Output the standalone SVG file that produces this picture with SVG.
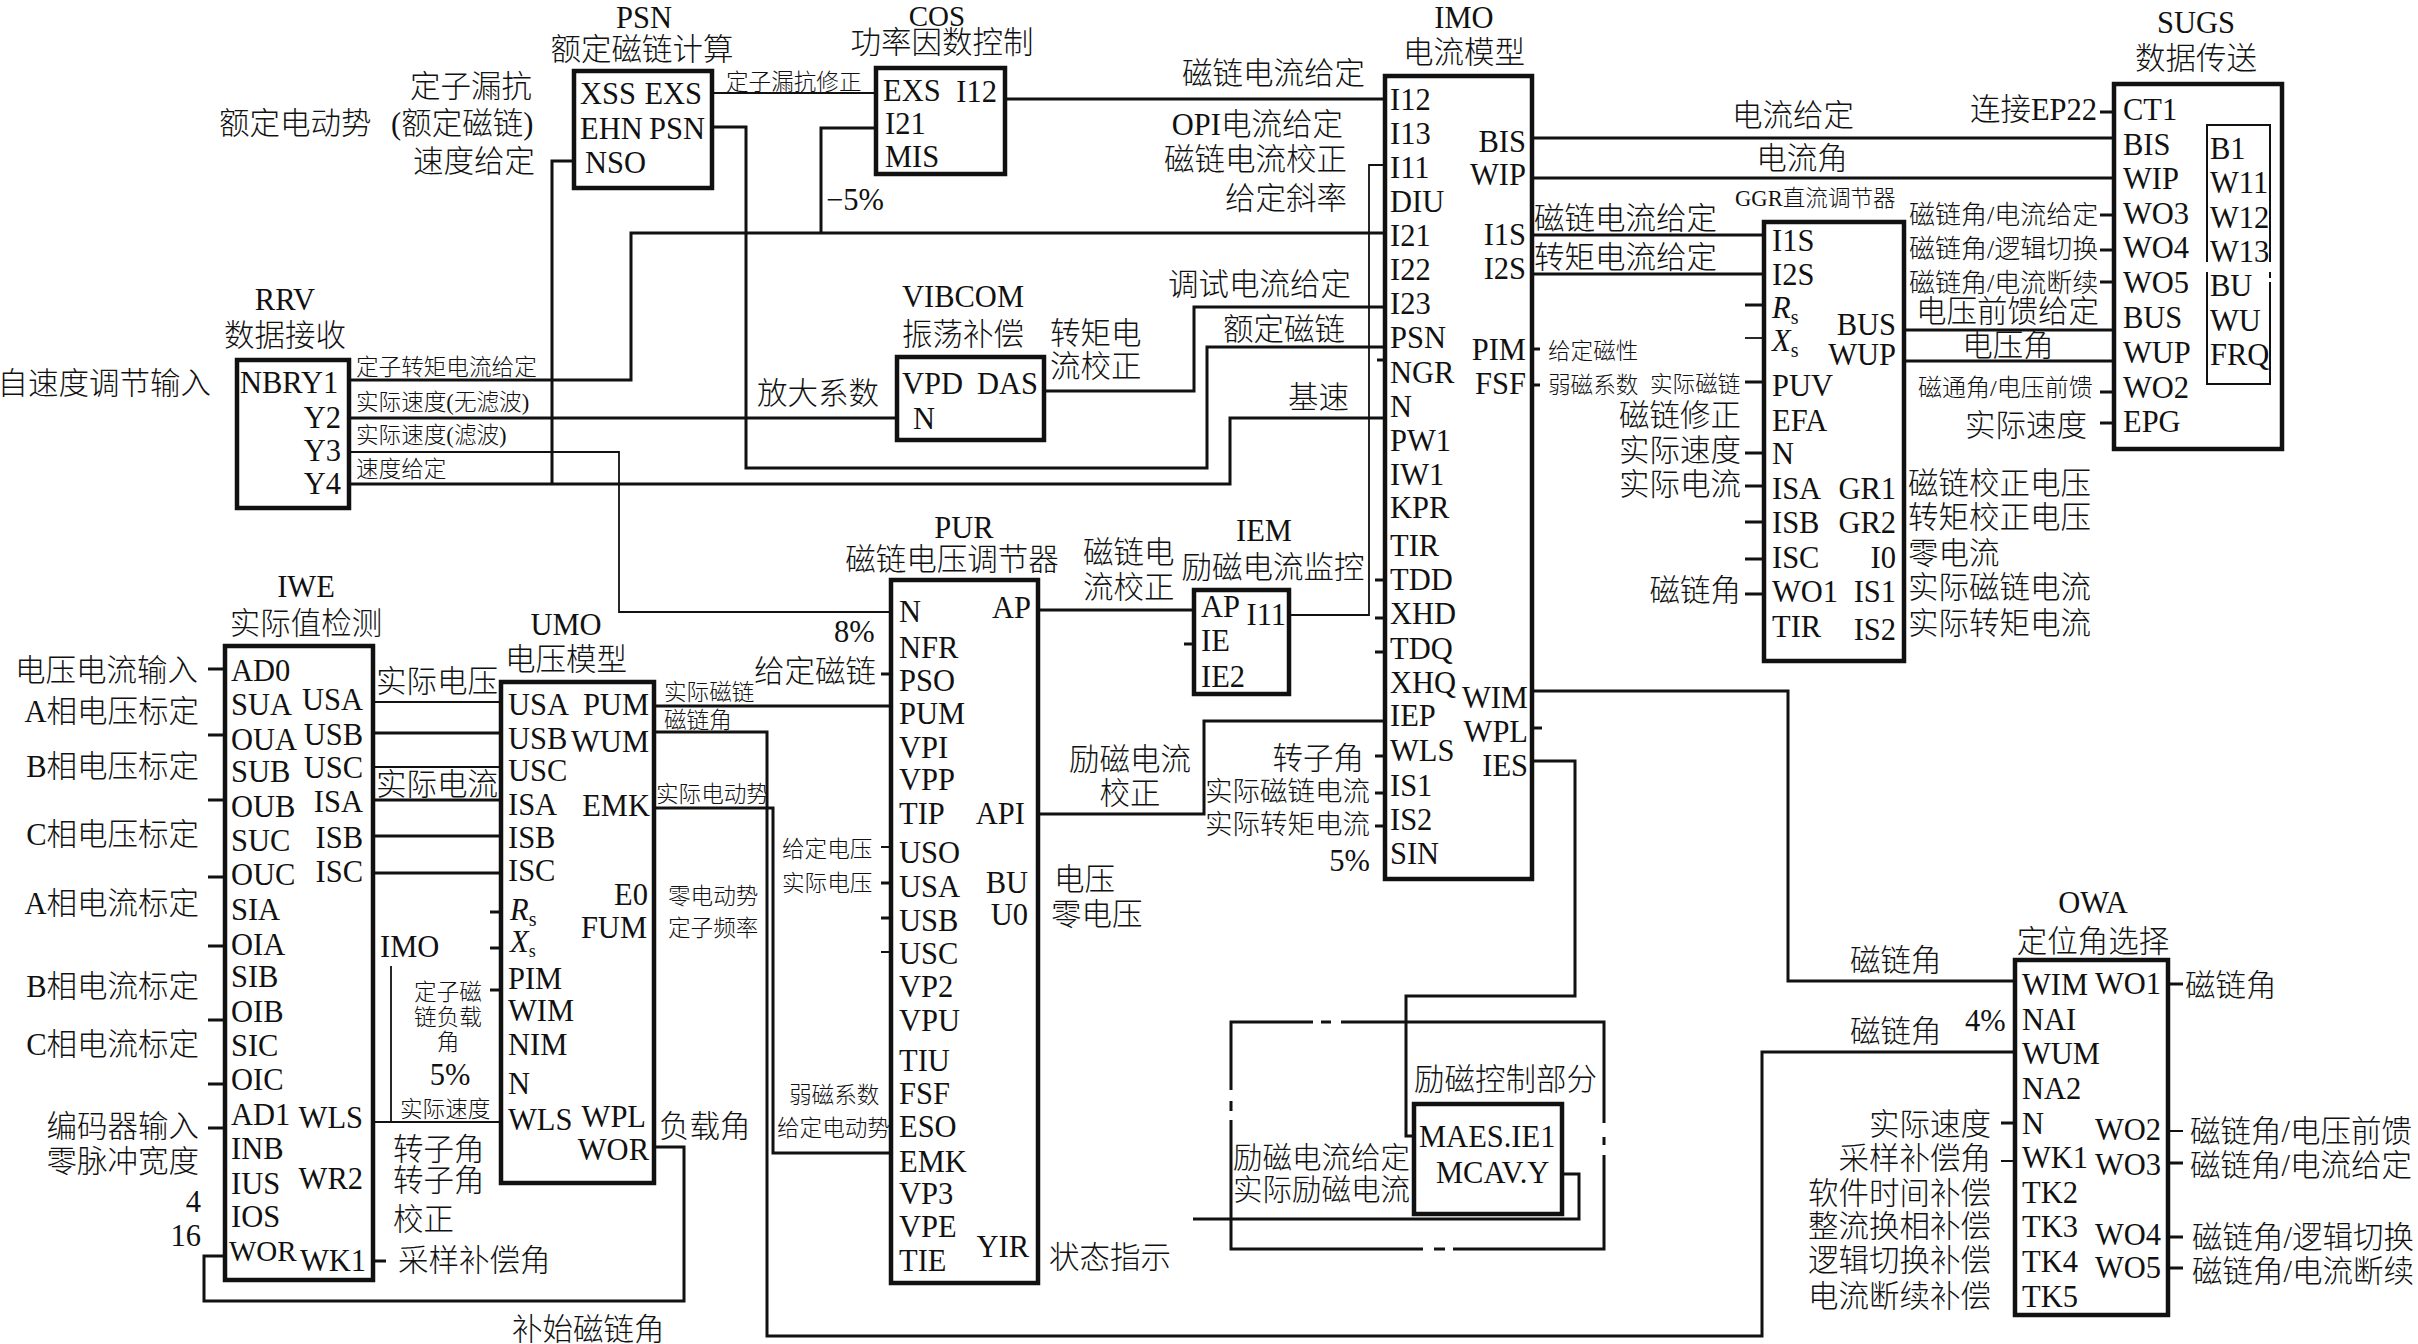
<svg xmlns="http://www.w3.org/2000/svg" width="2418" height="1344" viewBox="0 0 2418 1344">
<style>
text{font-family:"Liberation Serif","Noto Sans CJK SC",serif;font-size:30.5px;fill:#111;font-weight:300}
.s{font-size:22.6px}
.e{text-anchor:end}
.m{text-anchor:middle}
.i{font-style:italic}
.u{font-size:20px;font-style:normal}
.v{font-size:18px;font-style:normal}
.q{font-size:26px}
.r{font-size:27.5px}
.x{font-size:29.5px}
.b{fill:#fff;stroke:#111;stroke-width:4.5}
.n{fill:none;stroke:#111;stroke-width:2}
#wires path{fill:none;stroke:#111;stroke-width:3}
#wires path.t{stroke-width:1.8}
</style>
<rect width="2418" height="1344" fill="#fff"/>
<g id="wires">
<path d="M349 380H631V233H1385M821 233V128H876"/>
<path d="M349 418H897"/>
<path d="M349 452H619V612H891" class="t"/>
<path d="M349 484H1230V418H1385M552 484V161H574"/>
<path d="M712 93H876" class="t"/>
<path d="M712 127H746V468H1207V347H1385"/>
<path d="M1005 99H1385"/>
<path d="M1044 391H1194V307H1385"/>
<path d="M1385 165H1369V615H1289" class="t"/>
<path d="M1377 360H1385M1375 580H1385M1375 618H1385M1375 652H1385M1375 756H1385M1375 793H1385M1375 826H1385"/>
<path d="M1038 610H1194"/>
<path d="M1184 644H1194"/>
<path d="M1038 814H1204V721H1385"/>
<path d="M1532 138H2114M1532 178H2114"/>
<path d="M1532 235H1764M1532 274H1764"/>
<path d="M1532 349H1540M1532 385H1540"/>
<path d="M1745 305H1764M1745 382H1764M1745 453H1764M1745 486H1764M1745 522H1764M1745 559H1764M1745 594H1764"/>
<path d="M1745 338H1764" class="t"/>
<path d="M1904 330H2114M1904 361H2114"/>
<path d="M2100 112H2114M2100 215H2114M2100 250H2114M2100 282H2114M2100 392H2114M2100 423H2114"/>
<path d="M208 669H225M208 735H225M208 800H225M208 877H225M208 946H225M208 1020H225M208 1084H225M208 1128H225"/>
<path d="M373 702H501M373 767H501M373 1122H501M391 966V1122" class="t"/>
<path d="M373 733H501M373 800H501M373 836H501M373 873H501"/>
<path d="M490 912H501M490 948H501M490 990H501"/>
<path d="M373 1261H386"/>
<path d="M225 1256H204V1301H684V1147H654"/>
<path d="M654 706H891"/>
<path d="M654 732H767V1336H1762V1052H2015"/>
<path d="M654 808H773V1153H891"/>
<path d="M881 674H891M881 883H891M881 918H891"/>
<path d="M881 847H891M881 952H891" class="t"/>
<path d="M1532 691H1788V981H2015"/>
<path d="M1532 728H1542"/>
<path d="M1532 761H1575V996H1406V1136H1414"/>
<path d="M1562 1174H1579V1219H1193"/>
<path d="M1231 1090V1022H1313M1321 1022H1331M1341 1022H1604V1123M1604 1137V1145M1604 1155V1249H1453M1445 1249H1434M1423 1249H1231V1120M1231 1111V1101"/>
<path d="M2168 984H2183M2168 1163H2183M2168 1237H2183M2168 1268H2183M2001 1123H2015"/>
<path d="M2168 1131H2183M2001 1161H2015" class="t"/>
</g>

<g id="PSN">
<rect class="b" x="574" y="71" width="138" height="117"/>
<text class="m" x="644" y="28">PSN</text><text class="m" x="642" y="60">额定磁链计算</text>
<text x="580" y="104">XSS</text><text class="e" x="702" y="104">EXS</text>
<text x="580" y="139">EHN</text><text class="e" x="705" y="139">PSN</text>
<text x="585" y="173">NSO</text>
</g>
<g id="COS">
<rect class="b" x="876" y="68" width="129" height="106"/>
<text class="m" x="937" y="26" style="font-size:29px">COS</text><text class="m" x="942" y="53">功率因数控制</text>
<text x="883" y="101">EXS</text><text class="e" x="997" y="102">I12</text>
<text x="885" y="134">I21</text><text x="885" y="167">MIS</text>
</g>
<g id="RRV">
<rect class="b" x="237" y="360" width="112" height="148"/>
<text class="m" x="285" y="310">RRV</text><text class="m" x="285" y="346">数据接收</text>
<text x="240" y="393">NBRY1</text>
<text class="e" x="341" y="428">Y2</text><text class="e" x="341" y="461">Y3</text><text class="e" x="341" y="494">Y4</text>
</g>
<g id="VIBCOM">
<rect class="b" x="897" y="357" width="147" height="83"/>
<text class="m" x="963" y="307">VIBCOM</text><text class="m" x="963" y="345">振荡补偿</text>
<text x="902" y="394">VPD</text><text class="e" x="1038" y="394">DAS</text><text x="913" y="429">N</text>
</g>
<g id="IMO">
<rect class="b" x="1385" y="76" width="147" height="803"/>
<text class="m" x="1464" y="28">IMO</text><text class="m" x="1464" y="63">电流模型</text>
<text x="1390" y="110">I12</text><text x="1390" y="144">I13</text><text x="1390" y="178">I11</text><text x="1390" y="212">DIU</text>
<text x="1390" y="246">I21</text><text x="1390" y="280">I22</text><text x="1390" y="314">I23</text><text x="1390" y="348">PSN</text>
<text x="1390" y="383">NGR</text><text x="1390" y="417">N</text><text x="1390" y="451">PW1</text><text x="1390" y="485">IW1</text>
<text x="1390" y="518">KPR</text><text x="1390" y="556">TIR</text><text x="1390" y="590">TDD</text><text x="1390" y="624">XHD</text>
<text x="1390" y="659">TDQ</text><text x="1390" y="693">XHQ</text><text x="1390" y="726">IEP</text><text x="1390" y="761">WLS</text>
<text x="1390" y="796">IS1</text><text x="1390" y="830">IS2</text><text x="1390" y="864">SIN</text>
<text class="e" x="1526" y="152">BIS</text><text class="e" x="1526" y="185">WIP</text><text class="e" x="1526" y="245">I1S</text><text class="e" x="1526" y="279">I2S</text>
<text class="e" x="1526" y="360">PIM</text><text class="e" x="1526" y="394">FSF</text><text class="e" x="1528" y="708">WIM</text><text class="e" x="1528" y="742">WPL</text><text class="e" x="1528" y="776">IES</text>
</g>
<g id="GGR">
<rect class="b" x="1764" y="222" width="140" height="439"/>
<text class="s" x="1735" y="206">GGR直流调节器</text>
<text x="1772" y="251">I1S</text><text x="1772" y="285">I2S</text>
<text class="i" x="1772" y="318">R<tspan class="u" dy="6">s</tspan></text>
<text class="i" x="1772" y="351">X<tspan class="u" dy="6">s</tspan></text>
<text x="1772" y="396">PUV</text><text x="1772" y="431">EFA</text><text x="1772" y="464">N</text><text x="1772" y="499">ISA</text>
<text x="1772" y="533">ISB</text><text x="1772" y="568">ISC</text><text x="1772" y="602">WO1</text><text x="1772" y="637">TIR</text>
<text class="e" x="1896" y="335">BUS</text><text class="e" x="1896" y="365">WUP</text><text class="e" x="1896" y="499">GR1</text><text class="e" x="1896" y="533">GR2</text>
<text class="e" x="1896" y="568">I0</text><text class="e" x="1896" y="602">IS1</text><text class="e" x="1896" y="640">IS2</text>
</g>
<g id="SUGS">
<rect class="b" x="2114" y="84" width="168" height="365"/>
<text class="m" x="2196" y="33">SUGS</text><text class="m" x="2196" y="69">数据传送</text>
<text x="2123" y="120">CT1</text><text x="2123" y="155">BIS</text><text x="2123" y="189">WIP</text><text x="2123" y="224">WO3</text><text x="2123" y="258">WO4</text>
<text x="2123" y="293">WO5</text><text x="2123" y="328">BUS</text><text x="2123" y="363">WUP</text><text x="2123" y="398">WO2</text><text x="2123" y="432">EPG</text>
<path class="n" d="M2207 262V125H2270V262M2270 272V278M2270 282V384H2207V272"/>
<text x="2210" y="159">B1</text><text x="2210" y="193">W11</text><text x="2210" y="228">W12</text><text x="2210" y="262">W13</text>
<text x="2210" y="296">BU</text><text x="2210" y="331">WU</text><text x="2210" y="365">FRQ</text>
</g>
<g id="IWE">
<rect class="b" x="225" y="646" width="148" height="634"/>
<text class="m" x="306" y="597">IWE</text><text class="m" x="306" y="634">实际值检测</text>
<text x="231" y="681">AD0</text><text x="231" y="715">SUA</text><text x="231" y="750">OUA</text><text x="231" y="782">SUB</text><text x="231" y="817">OUB</text><text x="231" y="851">SUC</text>
<text x="231" y="885">OUC</text><text x="231" y="920">SIA</text><text x="231" y="955">OIA</text><text x="231" y="987">SIB</text><text x="231" y="1022">OIB</text><text x="231" y="1056">SIC</text>
<text x="231" y="1090">OIC</text><text x="231" y="1125">AD1</text><text x="231" y="1159">INB</text><text x="231" y="1194">IUS</text><text x="231" y="1227">IOS</text><text x="229" y="1261" style="font-size:29px">WOR</text>
<text class="e" x="363" y="710">USA</text><text class="e" x="363" y="745">USB</text><text class="e" x="363" y="778">USC</text><text class="e" x="363" y="812">ISA</text><text class="e" x="363" y="848">ISB</text><text class="e" x="363" y="882">ISC</text>
<text class="e" x="363" y="1128">WLS</text><text class="e" x="363" y="1189">WR2</text><text class="e" x="366" y="1271">WK1</text>
</g>
<g id="UMO">
<rect class="b" x="501" y="682" width="153" height="501"/>
<text class="m" x="566" y="635">UMO</text><text class="m" x="566" y="670">电压模型</text>
<text x="508" y="715">USA</text><text x="508" y="749">USB</text><text x="508" y="781">USC</text><text x="508" y="815">ISA</text><text x="508" y="848">ISB</text><text x="508" y="881">ISC</text>
<text class="i" x="510" y="920">R<tspan class="u" dy="6">s</tspan></text>
<text class="i" x="510" y="952">X<tspan class="v" dy="5">s</tspan></text>
<text x="508" y="989">PIM</text><text x="508" y="1021">WIM</text><text x="508" y="1055">NIM</text><text x="508" y="1094">N</text><text x="508" y="1130">WLS</text>
<text class="e" x="649" y="715">PUM</text><text class="e" x="649" y="752">WUM</text><text class="e" x="650" y="816">EMK</text><text class="e" x="648" y="905">E0</text><text class="e" x="647" y="938">FUM</text>
<text class="e" x="646" y="1127">WPL</text><text class="e" x="649" y="1160">WOR</text>
</g>
<g id="PUR">
<rect class="b" x="891" y="580" width="147" height="703"/>
<text class="m" x="964" y="538">PUR</text><text class="m" x="952" y="570">磁链电压调节器</text>
<text x="899" y="622">N</text><text x="899" y="658">NFR</text><text x="899" y="691">PSO</text><text x="899" y="724">PUM</text><text x="899" y="758">VPI</text><text x="899" y="790">VPP</text><text x="899" y="824">TIP</text>
<text x="899" y="863">USO</text><text x="899" y="897">USA</text><text x="899" y="931">USB</text><text x="899" y="964">USC</text><text x="899" y="997">VP2</text><text x="899" y="1031">VPU</text>
<text x="899" y="1071">TIU</text><text x="899" y="1104">FSF</text><text x="899" y="1137">ESO</text><text x="899" y="1172">EMK</text><text x="899" y="1204">VP3</text><text x="899" y="1237">VPE</text><text x="899" y="1271">TIE</text>
<text class="e" x="1031" y="618">AP</text><text class="e" x="1025" y="824">API</text><text class="e" x="1028" y="893">BU</text><text class="e" x="1028" y="925">U0</text><text class="e" x="1029" y="1257">YIR</text>
</g>
<g id="IEM">
<rect class="b" x="1194" y="590" width="95" height="104"/>
<text class="m" x="1264" y="541">IEM</text><text class="m" x="1273" y="578">励磁电流监控</text>
<text x="1201" y="617">AP</text><text class="e" x="1286" y="625">I11</text><text x="1201" y="651">IE</text><text x="1201" y="687">IE2</text>
</g>
<g id="EXC">
<rect class="b" x="1414" y="1104" width="148" height="110"/>
<text x="1414" y="1090">励磁控制部分</text>
<text x="1419" y="1147">MAES.IE1</text><text x="1436" y="1183">MCAV.Y</text>
</g>
<g id="OWA">
<rect class="b" x="2015" y="960" width="153" height="355"/>
<text class="m" x="2093" y="913">OWA</text><text class="m" x="2093" y="952">定位角选择</text>
<text x="2022" y="995">WIM</text><text x="2022" y="1030">NAI</text><text x="2022" y="1064">WUM</text><text x="2022" y="1099">NA2</text><text x="2022" y="1134">N</text>
<text x="2022" y="1168">WK1</text><text x="2022" y="1203">TK2</text><text x="2022" y="1237">TK3</text><text x="2022" y="1272">TK4</text><text x="2022" y="1307">TK5</text>
<text class="e" x="2161" y="994">WO1</text><text class="e" x="2161" y="1140">WO2</text><text class="e" x="2161" y="1175">WO3</text><text class="e" x="2161" y="1245">WO4</text><text class="e" x="2161" y="1278">WO5</text>
</g>

<g id="labels">
<text class="e" x="532" y="97">定子漏抗</text>
<text x="219" y="134">额定电动势<tspan x="391">(额定磁链)</tspan></text>
<text class="e" x="535" y="172">速度给定</text>
<text class="s" x="726" y="90">定子漏抗修正</text>
<text class="e" x="211" y="394">自速度调节输入</text>
<text class="s" x="356" y="375">定子转矩电流给定</text><text class="s" x="356" y="410">实际速度(无滤波)</text>
<text class="s" x="356" y="443">实际速度(滤波)</text><text class="s" x="356" y="477">速度给定</text>
<text x="757" y="404">放大系数</text>
<text x="1050" y="344">转矩电</text><text x="1050" y="377">流校正</text>
<text x="826" y="210">−5%</text>
<text x="1182" y="84">磁链电流给定</text><text class="e" x="1343" y="135">OPI电流给定</text>
<text class="e" x="1347" y="170">磁链电流校正</text><text class="e" x="1347" y="209">给定斜率</text>
<text class="e" x="1351" y="295">调试电流给定</text><text class="e" x="1345" y="340">额定磁链</text><text class="e" x="1349" y="408">基速</text>
<text class="m" x="1793" y="126">电流给定</text><text class="m" x="1802" y="169">电流角</text>
<text x="1534" y="229">磁链电流给定</text><text x="1534" y="268">转矩电流给定</text>
<text class="s" x="1548" y="359">给定磁性</text><text class="s" x="1548" y="393">弱磁系数</text><text class="s" x="1650" y="392">实际磁链</text>
<text class="e" x="1741" y="426">磁链修正</text><text class="e" x="1741" y="461">实际速度</text><text class="e" x="1741" y="495">实际电流</text><text class="e" x="1741" y="601">磁链角</text>
<text x="1908" y="494">磁链校正电压</text><text x="1908" y="528">转矩校正电压</text><text x="1908" y="564">零电流</text><text x="1908" y="598">实际磁链电流</text><text x="1908" y="634">实际转矩电流</text>
<text class="e" x="2097" y="120">连接EP22</text>
<text class="q" x="1909" y="224">磁链角/电流给定</text><text class="q" x="1909" y="258">磁链角/逻辑切换</text><text class="q" x="1909" y="292">磁链角/电流断续</text>
<text x="1916" y="322">电压前馈给定</text><text class="m" x="2008" y="356">电压角</text>
<text x="1918" y="396" style="font-size:24px">磁通角/电压前馈</text><text x="1965" y="436">实际速度</text>
<text x="15" y="681">电压电流输入</text><text class="e" x="199" y="722">A相电压标定</text><text class="e" x="199" y="777">B相电压标定</text><text class="e" x="199" y="845">C相电压标定</text>
<text class="e" x="199" y="914">A相电流标定</text><text class="e" x="199" y="997">B相电流标定</text><text class="e" x="199" y="1055">C相电流标定</text>
<text class="e" x="199" y="1137">编码器输入</text><text class="e" x="199" y="1172">零脉冲宽度</text>
<text class="e" x="201" y="1212">4</text><text class="e" x="201" y="1246">16</text>
<text x="376" y="692">实际电压</text><text x="376" y="795">实际电流</text>
<text x="380" y="957">IMO</text>
<text class="s m" x="448" y="1000">定子磁</text><text class="s m" x="448" y="1025">链负载</text><text class="s m" x="448" y="1050">角</text>
<text class="m" x="450" y="1085">5%</text><text class="s" x="400" y="1117">实际速度</text>
<text x="393" y="1160">转子角</text><text x="393" y="1191">转子角</text><text x="393" y="1230">校正</text><text x="398" y="1271">采样补偿角</text>
<text x="512" y="1340">补始磁链角</text>
<text class="s" x="664" y="700">实际磁链</text><text class="s" x="664" y="728">磁链角</text><text class="s" x="656" y="802">实际电动势</text>
<text class="s" x="668" y="904">零电动势</text><text class="s" x="668" y="936">定子频率</text><text x="659" y="1137">负载角</text>
<text x="834" y="642">8%</text><text x="754" y="682">给定磁链</text>
<text class="s" x="782" y="857">给定电压</text><text class="s" x="782" y="891">实际电压</text><text class="s" x="789" y="1103">弱磁系数</text><text class="s" x="777" y="1136">给定电动势</text>
<text x="1054" y="890">电压</text><text x="1051" y="925">零电压</text><text x="1049" y="1268">状态指示</text>
<text x="1083" y="563">磁链电</text><text x="1083" y="598">流校正</text>
<text x="1069" y="770">励磁电流</text><text class="m" x="1130" y="804">校正</text>
<text class="e" x="1364" y="769">转子角</text>
<text class="e r" x="1370" y="801">实际磁链电流</text><text class="e r" x="1370" y="834">实际转矩电流</text><text class="e" x="1370" y="871">5%</text>
<text class="x" x="1233" y="1168">励磁电流给定</text><text class="x" x="1233" y="1200">实际励磁电流</text>
<text x="1850" y="971">磁链角</text><text x="1850" y="1042">磁链角</text><text x="1965" y="1031">4%</text>
<text class="e" x="1991" y="1135">实际速度</text><text class="e" x="1991" y="1169">采样补偿角</text><text class="e" x="1991" y="1204">软件时间补偿</text>
<text class="e" x="1991" y="1237">整流换相补偿</text><text class="e" x="1991" y="1271">逻辑切换补偿</text><text class="e" x="1991" y="1307">电流断续补偿</text>
<text x="2185" y="996">磁链角</text><text x="2190" y="1142">磁链角/电压前馈</text><text x="2190" y="1176">磁链角/电流给定</text>
<text x="2192" y="1248">磁链角/逻辑切换</text><text x="2192" y="1282">磁链角/电流断续</text>
</g>
</svg>
